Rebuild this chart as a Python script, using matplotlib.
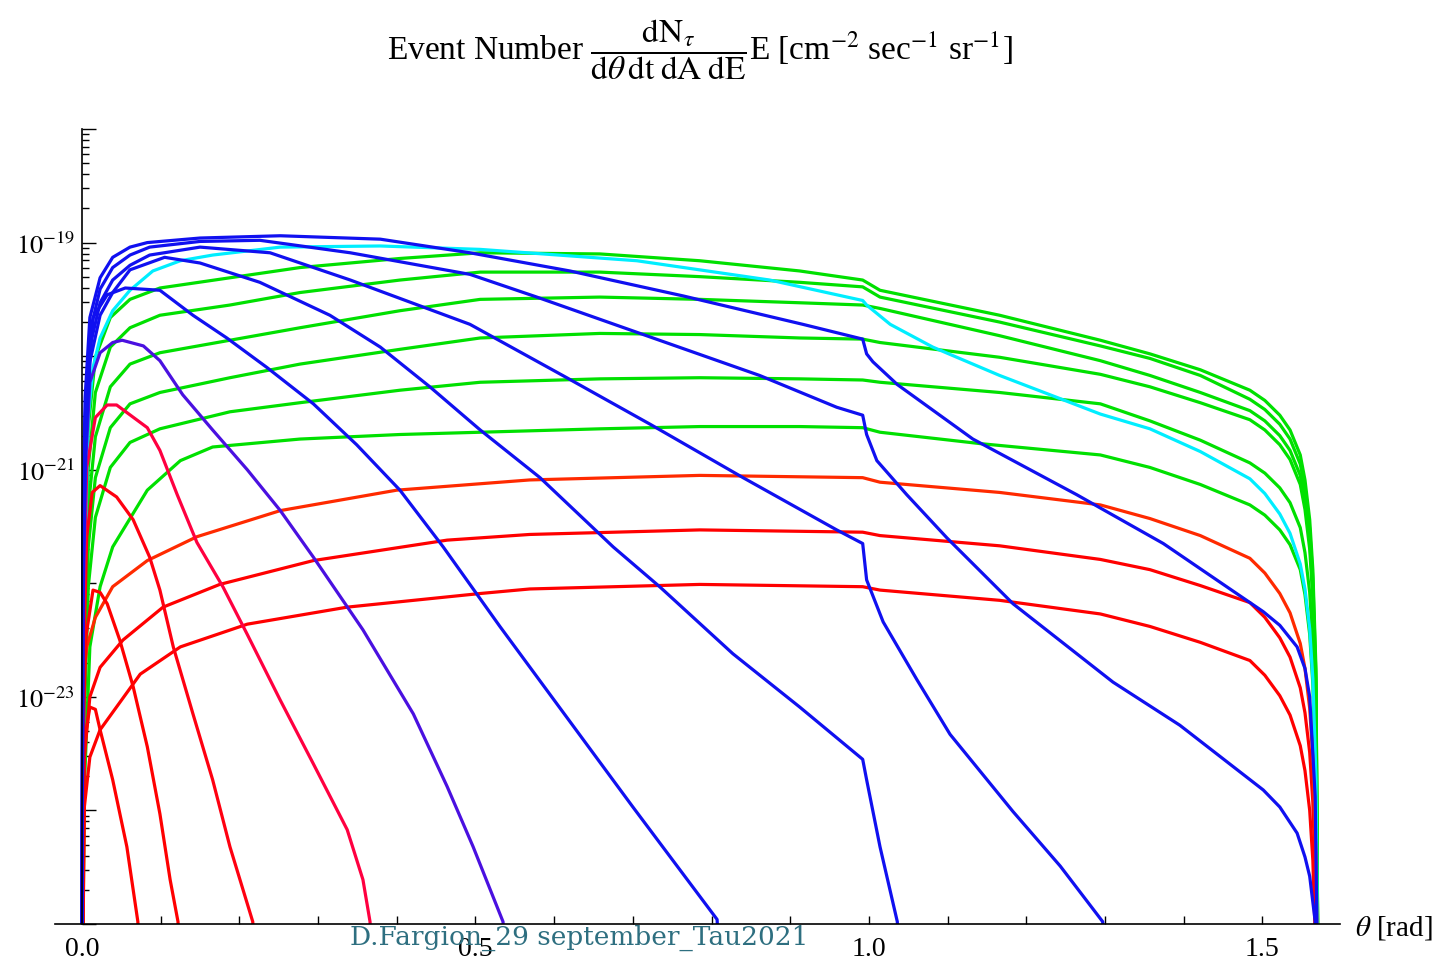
import numpy as np
import matplotlib.pyplot as plt
from matplotlib.ticker import FixedLocator, LogLocator, NullFormatter, MultipleLocator

plt.rcParams['font.family'] = ['Liberation Serif', 'DejaVu Serif']
plt.rcParams['mathtext.fontset'] = 'stix'

# theta [rad] and log10(rate); -26 = below the plot floor

# rising family (green / cyan / red)
g_x = [0.000, 0.003, 0.008, 0.017, 0.036, 0.061, 0.099, 0.188, 0.277, 0.404, 0.506, 0.658, 0.785, 0.912, 0.992,
       1.014, 1.166, 1.294, 1.357, 1.421, 1.484, 1.503, 1.522, 1.535, 1.548, 1.554, 1.560, 1.564, 1.568, 1.571]
g1_y = [-26, -21.77, -20.63, -20.01, -19.66, -19.50, -19.40, -19.31, -19.22, -19.14, -19.09, -19.10, -19.16, -19.25,
        -19.33, -19.42, -19.64, -19.86, -19.98, -20.12, -20.30, -20.39, -20.52, -20.65, -20.87, -21.09, -21.44,
        -21.88, -22.76, -26]
g2_y = [-26, -22.12, -20.98, -20.32, -19.92, -19.75, -19.64, -19.55, -19.44, -19.33, -19.26, -19.26, -19.30, -19.35,
        -19.39, -19.48, -19.70, -19.91, -20.02, -20.17, -20.38, -20.47, -20.60, -20.73, -20.95, -21.17, -21.52,
        -21.96, -22.84, -26]
g3_y = [-26, -22.47, -21.33, -20.71, -20.27, -20.07, -19.97, -19.86, -19.75, -19.60, -19.50, -19.48, -19.50, -19.53,
        -19.55, -19.58, -19.82, -20.04, -20.17, -20.32, -20.48, -20.57, -20.70, -20.83, -21.05, -21.27, -21.62,
        -22.06, -22.94, -26]
g4_y = [-26, -22.82, -21.68, -21.07, -20.63, -20.42, -20.32, -20.19, -20.07, -19.94, -19.84, -19.80, -19.81, -19.84,
        -19.85, -19.88, -20.01, -20.16, -20.27, -20.41, -20.56, -20.65, -20.78, -20.91, -21.13, -21.35, -21.70,
        -22.14, -23.02, -26]
g5_y = [-26, -23.18, -22.03, -21.42, -20.98, -20.76, -20.64, -20.49, -20.41, -20.30, -20.23, -20.20, -20.19, -20.20,
        -20.21, -20.23, -20.32, -20.42, -20.57, -20.74, -20.94, -21.03, -21.16, -21.29, -21.51, -21.73, -22.08,
        -22.52, -23.40, -26]
g6_x = [0.000, 0.003, 0.010, 0.023, 0.039, 0.083, 0.125, 0.166, 0.277, 0.404, 0.506, 0.658, 0.785, 0.912, 0.992,
        1.014, 1.141, 1.294, 1.357, 1.421, 1.484, 1.503, 1.522, 1.535, 1.548, 1.554, 1.560, 1.564, 1.568, 1.571]
g6_y = [-26, -23.79, -22.56, -22.03, -21.68, -21.18, -20.92, -20.80, -20.73, -20.69, -20.67, -20.64, -20.62, -20.62,
        -20.63, -20.67, -20.77, -20.87, -20.98, -21.13, -21.31, -21.40, -21.53, -21.66, -21.88, -22.10, -22.45,
        -22.89, -23.77, -26]
cy_x = [0.000, 0.003, 0.008, 0.014, 0.023, 0.039, 0.061, 0.090, 0.125, 0.166, 0.252, 0.379, 0.506, 0.705, 0.874,
        0.992, 0.997, 1.027, 1.081, 1.166, 1.294, 1.357, 1.421, 1.484, 1.503, 1.522, 1.535, 1.548, 1.554, 1.560,
        1.564, 1.568, 1.571]
cy_y = [-26, -22.12, -20.54, -20.10, -19.84, -19.60, -19.42, -19.25, -19.16, -19.11, -19.04, -19.03, -19.06, -19.16,
        -19.33, -19.51, -19.55, -19.72, -19.92, -20.17, -20.51, -20.64, -20.84, -21.08, -21.21, -21.39, -21.56,
        -21.83, -22.05, -22.40, -22.84, -23.72, -26]
r_x = [0.000, 0.003, 0.010, 0.023, 0.052, 0.103, 0.175, 0.294, 0.464, 0.569, 0.785, 0.992, 1.014, 1.166, 1.294,
       1.357, 1.421, 1.484, 1.503, 1.522, 1.535, 1.548, 1.554, 1.560, 1.564, 1.568, 1.571]
r5_x = [0.000, 0.001, 0.006, 0.017, 0.039, 0.083, 0.146, 0.252, 0.400, 0.569, 0.785, 0.992, 1.014, 1.166, 1.294,
        1.357, 1.421, 1.484, 1.503, 1.522, 1.535, 1.548, 1.554, 1.560, 1.564, 1.568, 1.571]
r5_y = [-26, -22.91, -22.56, -22.30, -22.03, -21.80, -21.59, -21.36, -21.18, -21.09, -21.05, -21.07, -21.11, -21.20,
        -21.31, -21.43, -21.58, -21.78, -21.91, -22.09, -22.26, -22.53, -22.75, -23.10, -23.54, -24.42, -26]
r6_y = [-26, -23.53, -23.00, -22.74, -22.50, -22.21, -22.01, -21.80, -21.62, -21.57, -21.53, -21.55, -21.58, -21.67,
        -21.79, -21.88, -22.02, -22.17, -22.30, -22.48, -22.65, -22.92, -23.14, -23.49, -23.93, -24.81, -26]
r7_x = [0.000, 0.003, 0.010, 0.023, 0.074, 0.125, 0.210, 0.337, 0.506, 0.569, 0.785, 0.992, 1.014, 1.166, 1.294,
        1.357, 1.421, 1.484, 1.503, 1.522, 1.535, 1.548, 1.554, 1.560, 1.564, 1.568, 1.571]
r7_y = [-26, -23.97, -23.53, -23.29, -22.80, -22.56, -22.36, -22.21, -22.09, -22.05, -22.01, -22.03, -22.06, -22.15,
        -22.27, -22.38, -22.52, -22.68, -22.81, -22.99, -23.16, -23.43, -23.65, -24.00, -24.44, -25.32, -26]

# falling family (red / blue), kinks at theta = 1
f1_x = [0.000, 0.001, 0.004, 0.010, 0.017, 0.023, 0.039, 0.057, 0.071, 0.075]
f1_y = [-26, -23.88, -23.35, -23.09, -23.11, -23.29, -23.73, -24.32, -24.98, -26]
f2_x = [0.000, 0.001, 0.005, 0.014, 0.023, 0.032, 0.048, 0.065, 0.083, 0.099, 0.112, 0.122, 0.126]
f2_y = [-26, -23.53, -22.47, -22.06, -22.08, -22.18, -22.50, -22.91, -23.44, -24.03, -24.61, -24.98, -26]
f3_x = [0.000, 0.001, 0.006, 0.013, 0.023, 0.044, 0.065, 0.086, 0.099, 0.116, 0.141, 0.166, 0.188, 0.217, 0.222]
f3_y = [-26, -23.00, -21.59, -21.20, -21.14, -21.24, -21.44, -21.77, -22.06, -22.56, -23.15, -23.73, -24.32, -24.98, -26]
f4_x = [0.000, 0.001, 0.006, 0.017, 0.032, 0.044, 0.083, 0.099, 0.121, 0.146, 0.179, 0.210, 0.252, 0.294, 0.337,
        0.357, 0.366, 0.372]
f4_y = [-26, -22.56, -20.98, -20.54, -20.43, -20.43, -20.63, -20.83, -21.22, -21.64, -22.03, -22.45, -23.03, -23.59,
        -24.17, -24.61, -24.98, -26]
f5_x = [0.000, 0.001, 0.005, 0.010, 0.023, 0.039, 0.051, 0.078, 0.099, 0.128, 0.166, 0.210, 0.252, 0.294, 0.357,
        0.421, 0.464, 0.497, 0.535, 0.541]
f5_y = [-26, -22.30, -20.89, -20.23, -19.97, -19.88, -19.86, -19.91, -20.04, -20.34, -20.65, -21.00, -21.36, -21.77,
        -22.41, -23.15, -23.79, -24.32, -24.98, -26]
f6_x = [0.000, 0.001, 0.005, 0.014, 0.032, 0.055, 0.099, 0.141, 0.184, 0.235, 0.294, 0.349, 0.404, 0.459, 0.531,
        0.616, 0.700, 0.807, 0.815]
f6_y = [-26, -22.12, -20.54, -19.66, -19.46, -19.40, -19.42, -19.64, -19.84, -20.10, -20.42, -20.78, -21.18, -21.68,
        -22.38, -23.18, -23.97, -24.96, -26]
f7_x = [0.000, 0.001, 0.004, 0.010, 0.023, 0.039, 0.061, 0.105, 0.150, 0.226, 0.315, 0.379, 0.442, 0.506, 0.582,
        0.675, 0.734, 0.827, 0.912, 0.992, 0.997, 1.014, 1.036, 1.040]
f7_y = [-26, -21.95, -20.89, -20.05, -19.64, -19.44, -19.24, -19.13, -19.18, -19.35, -19.64, -19.92, -20.27, -20.65,
        -21.07, -21.68, -22.03, -22.62, -23.09, -23.55, -23.73, -24.32, -24.98, -26]
f8_x = [0.000, 0.001, 0.004, 0.010, 0.023, 0.039, 0.061, 0.086, 0.150, 0.239, 0.341, 0.493, 0.616, 0.722, 0.840,
        0.959, 0.992, 0.997, 1.018, 1.061, 1.103, 1.183, 1.243, 1.297, 1.302]
f8_y = [-26, -21.77, -20.71, -19.92, -19.53, -19.33, -19.20, -19.11, -19.04, -19.09, -19.33, -19.72, -20.19, -20.60,
        -21.07, -21.53, -21.65, -21.97, -22.34, -22.85, -23.33, -24.01, -24.49, -24.98, -26]
f9_x = [0.000, 0.001, 0.004, 0.010, 0.023, 0.039, 0.061, 0.086, 0.150, 0.226, 0.341, 0.493, 0.578, 0.705, 0.861,
        0.959, 0.992, 0.997, 1.010, 1.048, 1.099, 1.183, 1.310, 1.395, 1.501, 1.522, 1.544, 1.554, 1.560, 1.567, 1.568]
f9_y = [-26, -21.59, -20.54, -19.79, -19.41, -19.22, -19.11, -19.04, -18.99, -18.98, -19.09, -19.28, -19.48, -19.79,
        -20.17, -20.45, -20.52, -20.69, -20.92, -21.22, -21.60, -22.18, -22.87, -23.25, -23.82, -23.97, -24.20,
        -24.41, -24.58, -24.98, -26]
f10_x = [0.000, 0.001, 0.004, 0.010, 0.023, 0.039, 0.061, 0.083, 0.150, 0.252, 0.379, 0.493, 0.620, 0.764, 0.916,
         0.992, 0.997, 1.005, 1.036, 1.132, 1.264, 1.374, 1.501, 1.522, 1.544, 1.554, 1.560, 1.567, 1.569, 1.570]
f10_y = [-26, -21.42, -20.36, -19.66, -19.31, -19.13, -19.04, -19.00, -18.96, -18.94, -18.97, -19.09, -19.25, -19.47,
         -19.72, -19.85, -19.98, -20.05, -20.25, -20.73, -21.22, -21.65, -22.25, -22.37, -22.56, -22.75, -23.00,
         -23.88, -24.98, -26]

GREEN = '#00e000'
BLUE = '#1010f0'
curves = [
    (g6_x, g6_y, GREEN), (g_x, g5_y, GREEN), (g_x, g4_y, GREEN), (g_x, g3_y, GREEN),
    (g_x, g2_y, GREEN), (g_x, g1_y, GREEN), (cy_x, cy_y, '#00eeff'),
    (r7_x, r7_y, '#ff0000'), (r_x, r6_y, '#ff0000'), (r5_x, r5_y, '#ff2a00'),
    (f1_x, f1_y, '#ff0000'), (f2_x, f2_y, '#ff0000'), (f3_x, f3_y, '#ff0010'), (f4_x, f4_y, '#ff0040'),
    (f5_x, f5_y, '#4a10e0'), (f6_x, f6_y, BLUE), (f7_x, f7_y, BLUE), (f8_x, f8_y, BLUE),
    (f9_x, f9_y, BLUE), (f10_x, f10_y, BLUE),
]

fig = plt.figure(figsize=(14.37, 9.62), dpi=100)
ax = fig.add_axes([55 / 1437, 1 - 925 / 962, (1340 - 55) / 1437, (925 - 130) / 962])

for x, ly, c in curves:
    ax.plot(x, 10.0 ** np.array(ly), color=c, lw=2.3, solid_joinstyle='round')

ax.set_yscale('log')
ax.set_xlim(-0.0343, 1.5985)
ax.set_ylim(1e-25, 1e-18)

for s in ['top', 'right']:
    ax.spines[s].set_visible(False)
ax.spines['left'].set_position(('data', 0))
ax.spines['left'].set_linewidth(1.2)
ax.spines['bottom'].set_linewidth(1.2)

ax.xaxis.set_major_locator(FixedLocator([0.0, 0.5, 1.0, 1.5]))
ax.set_xticklabels(['0.0', '0.5', '1.0', '1.5'])
ax.xaxis.set_minor_locator(MultipleLocator(0.1))
ax.tick_params(axis='x', which='both', direction='in', length=6, width=1, labelsize=20, pad=9)

exps = list(range(-25, -17))
ax.yaxis.set_major_locator(FixedLocator([10.0 ** k for k in exps]))
ax.set_yticklabels([r'$10^{%d}$' % k if k in (-19, -21, -23) else '' for k in exps])
ax.yaxis.set_minor_locator(LogLocator(base=10, subs=np.arange(2, 10), numticks=20))
ax.yaxis.set_minor_formatter(NullFormatter())
ax.tick_params(axis='y', which='major', direction='in', length=10, width=1, labelsize=19, pad=5)
ax.tick_params(axis='y', which='minor', direction='in', length=5, width=1)

fig.text(1355 / 1437, 1 - 928 / 962, r'$\theta$ [rad]', fontsize=21, va='center', ha='left')
fig.text(700 / 1437, 1 - 50 / 962,
         r'Event Number $\dfrac{\mathrm{dN}_{\tau}}{\mathrm{d}\theta\,\mathrm{dt}\;\mathrm{dA}\;\mathrm{dE}}$'
         r'E [cm$^{-2}$ sec$^{-1}$ sr$^{-1}$]',
         fontsize=24, ha='center', va='center')
fig.text(350 / 1437, 1 - 938 / 962, 'D.Fargion_29 september_Tau2021', color='#2e6f80',
         fontsize=19, family=['DejaVu Serif'], va='center', ha='left')

fig.savefig('out.png', dpi=100)
